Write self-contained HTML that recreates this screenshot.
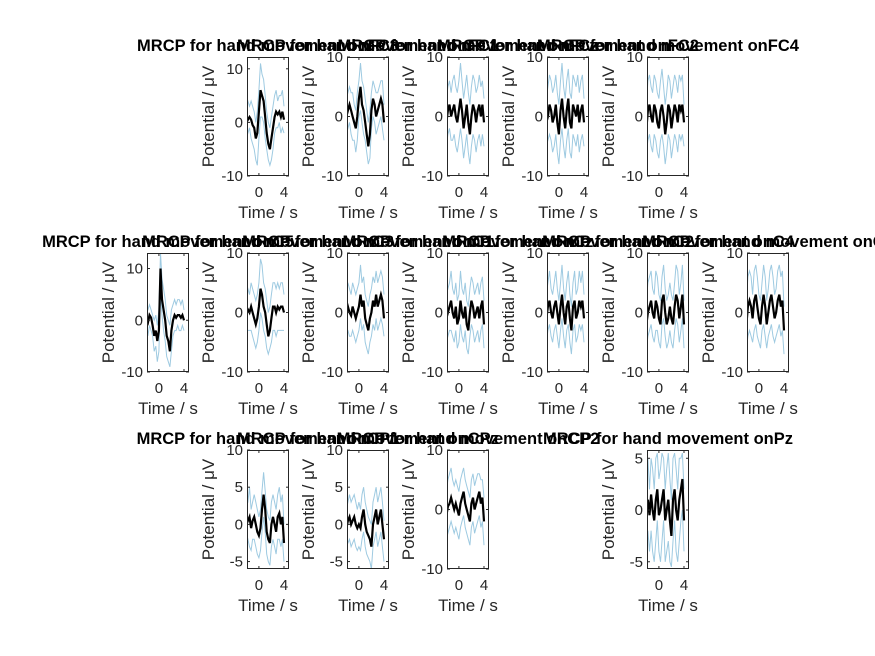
<!DOCTYPE html>
<html><head><meta charset="utf-8"><style>
body{margin:0;background:#fff}
svg{display:block;font-family:"Liberation Sans",Arial,sans-serif}
.tk{font-size:15px;fill:#262626}
.lb{font-size:17px;fill:#262626}
.tt{font-size:16.5px;font-weight:bold;fill:#000}
</style></head><body>
<svg id="fig" width="875" height="656" viewBox="0 0 875 656">
<rect width="875" height="656" fill="#fff"/>
</svg>
<script>
const times=[-2,-1.75,-1.5,-1.25,-1,-0.75,-0.5,-0.25,0,0.25,0.5,0.75,1,1.25,1.5,1.75,2,2.25,2.5,2.75,3,3.25,3.5,3.75,4];
const channels=["FC3","FC1","FCz","FC2","FC4","C5","C3","C1","Cz","C2","C4","C6","CP1","CPz","CP2","Pz"];
const ylims=[[-10,12.2],[-10,10],[-10,10],[-10,10],[-10,10],[-10,13],[-10,10],[-10,10],[-10,10],[-10,10],[-10,10],[-10,10],[-6,10],[-6,10],[-10,10],[-5.7,5.8]];
const yticks=[[-10,0,10],[-10,0,10],[-10,0,10],[-10,0,10],[-10,0,10],[-10,0,10],[-10,0,10],[-10,0,10],[-10,0,10],[-10,0,10],[-10,0,10],[-10,0,10],[-5,0,5,10],[-5,0,5,10],[-10,0,10],[-5,0,5]];
const meanVals=[
[0,0.5,1,0.5,-0.5,-1,-3,-2,2,6,5,4,1,-2,-4,-5,-3,-1,1,2,1.5,2,1,2,0.5],
[0,1,2,1,0,-1,-2,0,3,5,2,1,-1,-3,-5,-3,1,3,2,0,1,2,3,2,-1],
[-1,1,2,0,1,2,0,-1,1,3,1,-2,0,2,-1,-3,0,2,1,-1,1,2,0,2,-1],
[-1,0,2,1,-1,0,2,-1,-3,1,3,0,-2,1,3,-1,-2,2,1,0,2,-1,1,2,-1],
[-2,1,2,0,-1,2,1,-1,-2,1,2,0,-3,-1,2,1,-2,0,2,1,-1,2,1,2,-1],
[0,-0.5,1,0.5,-1,-3,-2,-4,-2,10,4,2,0,-3,-4,-6,-2,0,1,0.5,1,1,0.5,1,0],
[0,0.5,0,1,0,-1,-2,-1,1,4,3,1,0,-2,-4,-3,-1,1,1,0,1,0.5,1,1,0],
[0,1,0,-0.5,1,0,-1,0,1,3,1,2,-1,-2,-3,-1,0,2,1,3,1,2,3,2,-1],
[-1,0,1,2,0,-1,1,-2,-1,2,0,-1,1,-2,-3,0,2,1,-1,0,1,-1,1,2,-2],
[-1,1,2,0,-1,1,2,0,-2,1,3,0,-2,1,2,-1,-3,1,2,-1,0,2,1,2,-1],
[-2,0,1,2,0,-1,2,1,-1,-2,2,3,0,-2,-1,1,-1,-2,1,3,2,-1,1,3,-2],
[-2,1,2,1,-1,2,3,1,-1,-2,1,3,1,-2,0,2,3,1,-1,0,2,3,1,2,-3],
[0,0.5,1,-0.5,0.5,1,0,-1,-1.5,-0.5,2,4,2,-1,-2,-2.5,0,1,0,-1,1,1.5,0,1,-2.5],
[-0.5,0.5,1,0,0.5,1,0,-0.5,0,-0.5,1,2,0,-1,-1.5,-2,-3,0,1,2,0,1,2,0,-2],
[-1,0.5,1,2,1,0,1,0,-1,1,2,3,1,0,-1,-2,1,2,0,1,2,3,1,2,-2],
[0,1,-0.5,1.5,0,-1,1,2,-0.5,0,1,2,-1,0,1,-1,-2.5,1,2,0,-1,1,2,3,-1]];
const upperVals=[
[3,4,3,4,3,2,0,2,6,11,9,8,5,2,0,-1,1,3,5,6,4,5,5,6,3],
[3,4,5,4,4,2,1,4,6,9,6,5,3,1,-1,1,4,6,5,4,4,5,6,6,2],
[3,5,6,4,6,7,5,4,6,9,6,3,5,7,4,2,5,7,6,4,5,7,5,6,3],
[3,5,7,6,4,5,7,4,2,6,9,5,3,6,8,4,3,7,6,5,7,4,6,7,3],
[2,6,7,5,4,7,6,4,3,6,8,5,2,4,7,6,3,5,7,6,4,7,6,7,2],
[3,2,3,2,1,0,1,-1,2,13,8,6,4,1,0,-1,2,3,4,3,4,4,3,4,2],
[3,4,3,5,4,3,2,3,5,9,8,5,4,2,0,1,3,5,5,4,5,4,5,5,3],
[3,5,4,3,5,4,3,4,5,8,5,6,3,2,1,3,4,6,5,7,5,6,7,6,3],
[3,4,5,7,4,3,5,2,3,7,4,3,5,2,1,4,6,5,3,4,5,3,5,6,2],
[3,5,7,4,3,5,7,4,2,5,8,4,2,5,7,3,1,5,7,3,4,7,5,7,3],
[2,5,6,7,4,3,7,6,3,2,6,8,4,2,3,5,3,2,5,8,7,3,5,8,2],
[2,6,7,6,3,7,8,6,3,2,5,8,6,2,4,7,8,6,3,4,7,8,6,7,1],
[2.5,3,5,2,3,4,3,2,1,2,4.5,7,4.5,2,1,0.5,3,4,3,2,4,5,3,4,0],
[2,3,4,3,3.5,4,3,2,3,2,4,5,3,2,1,0.5,0,3,4,5,3,4,5,3,0.5],
[3,5,6,7,5,4,5,4,3,5,6,7,5,4,3,2,5,6,4,5,6,6,5,5,2],
[3,5,2,5,4,2,5,5.5,3,4,5.5,5,2,4,5.5,3,1,5,5.5,4,2,5,5,5.5,2]];
const lowerVals=[
[-3,-2,-1,-3,-4,-5,-7,-8,-3,1,1,0,-3,-5,-7,-8,-7,-5,-2,-1,-1,0,-2,-1,-2],
[-3,-2,-1,-3,-4,-4,-6,-4,0,1,-1,-3,-4,-6,-8,-7,-2,0,-1,-3,-2,-1,0,-2,-4],
[-5,-3,-2,-4,-4,-3,-5,-6,-4,-2,-4,-7,-5,-3,-6,-8,-5,-3,-4,-6,-4,-3,-5,-3,-5],
[-5,-4,-3,-4,-6,-5,-3,-6,-8,-4,-2,-5,-7,-4,-2,-6,-7,-3,-4,-5,-3,-6,-4,-3,-5],
[-6,-4,-3,-5,-6,-3,-4,-6,-7,-4,-3,-5,-8,-6,-3,-4,-7,-5,-3,-4,-6,-3,-4,-3,-5],
[-2,-3,-1,-2,-3,-6,-5,-8,-6,5,1,-2,-4,-7,-8,-9,-6,-3,-2,-2,-1,-2,-2,-1,-2],
[-3,-3,-3,-3,-4,-5,-6,-5,-3,0,-1,-3,-4,-6,-7,-6,-5,-3,-3,-4,-3,-3,-3,-3,-3],
[-3,-3,-4,-4,-3,-4,-5,-4,-3,-1,-3,-2,-5,-6,-7,-5,-4,-2,-3,-1,-3,-2,-1,-2,-4],
[-5,-4,-3,-3,-4,-5,-3,-6,-5,-2,-4,-5,-3,-6,-7,-4,-2,-3,-5,-4,-3,-5,-3,-2,-6],
[-5,-3,-2,-4,-5,-3,-2,-4,-6,-3,-1,-4,-6,-3,-2,-5,-7,-3,-2,-5,-4,-2,-3,-2,-5],
[-6,-4,-3,-2,-4,-5,-3,-3,-5,-6,-2,-1,-4,-6,-5,-3,-5,-6,-3,-1,-2,-5,-3,-1,-6],
[-6,-4,-3,-4,-5,-3,-2,-4,-5,-6,-3,-2,-4,-6,-4,-3,-2,-4,-5,-4,-3,-2,-4,-3,-7],
[-2.5,-2,-3,-3.5,-2,-2,-3,-4,-4.5,-3.5,-1,1,-1,-4,-5,-5.5,-3,-2,-3,-4,-2,-2,-3,-2,-5],
[-3,-2.5,-2,-3,-2.5,-2,-3,-3.5,-3,-3.5,-2,-1,-3,-4,-4.5,-5,-6,-3,-2,-1,-3,-2,-1,-3,-5],
[-5,-4,-3,-2,-3,-4,-3,-4,-5,-3,-2,-1,-3,-4,-5,-6,-3,-2,-4,-3,-2,-1,-3,-2,-6],
[-3,-2,-4,-2,-4,-5,-3,-1,-4,-5,-3,-1,-5,-4,-3,-5,-5.5,-3,-1,-4,-5,-3,-1,0,-4]];
const xticks=[0,4];
const xlim=[-1.9,4.8];
const NS="http://www.w3.org/2000/svg";
const svg=document.getElementById('fig');
const cells=[[0,1],[0,2],[0,3],[0,4],[0,5],[1,0],[1,1],[1,2],[1,3],[1,4],[1,5],[1,6],[2,1],[2,2],[2,3],[2,5]];
const rowTop=[57,253,450],AH=119,AW=42;
function mk(tag,attrs,parent){const e=document.createElementNS(NS,tag);for(const k in attrs)e.setAttribute(k,attrs[k]);(parent||svg).appendChild(e);return e;}
const titleLayer=document.createElementNS(NS,'g');
cells.forEach((c,i)=>{
  const x0=147+c[1]*100,y0=rowTop[c[0]];
  const yl=ylims[i];
  const sx=t=>x0+(t-xlim[0])/(xlim[1]-xlim[0])*AW;
  const sy=v=>y0+AH-(v-yl[0])/(yl[1]-yl[0])*AH;
  const g=mk('g',{});
  
  
  const cp='cp'+i;
  const cl=mk('clipPath',{id:cp},g);mk('rect',{x:x0,y:y0,width:AW,height:AH},cl);
  mk('rect',{x:x0,y:y0,width:AW,height:AH,fill:'#fff'},g);
  const pts=a=>a.map((v,k)=>sx(times[k]).toFixed(1)+','+sy(v).toFixed(1)).join(' ');
  const u=mk('polyline',{points:pts(upperVals[i]),fill:'none',stroke:'#9ecae1','stroke-width':1,'clip-path':'url(#'+cp+')'},g);
  
  
  const l=mk('polyline',{points:pts(lowerVals[i]),fill:'none',stroke:'#9ecae1','stroke-width':1,'clip-path':'url(#'+cp+')'},g);
  
  
  const m=mk('polyline',{points:pts(meanVals[i]),fill:'none',stroke:'#000','stroke-width':2.2,'clip-path':'url(#'+cp+')'},g);
  
  
  mk('rect',{x:x0+0.5,y:y0+0.5,width:AW-1,height:AH-1,fill:'none',stroke:'#262626','stroke-width':1},g);
  yticks[i].forEach(v=>{const y=sy(v);
    mk('line',{x1:x0,x2:x0+3,y1:y,y2:y,stroke:'#262626'},g);
    mk('line',{x1:x0+AW-3,x2:x0+AW,y1:y,y2:y,stroke:'#262626'},g);
    const t=mk('text',{x:x0-4,y:y+5,'text-anchor':'end',class:'tk'},g);t.textContent=v;
    
    
  });
  xticks.forEach(v=>{const x=sx(v);
    mk('line',{x1:x,x2:x,y1:y0+AH,y2:y0+AH-3,stroke:'#262626'},g);
    mk('line',{x1:x,x2:x,y1:y0,y2:y0+3,stroke:'#262626'},g);
    const t=mk('text',{x:x,y:y0+AH+21,'text-anchor':'middle',class:'tk'},g);t.textContent=v;
    
    
  });
  const xl=mk('text',{x:x0+AW/2,y:y0+AH+42,'text-anchor':'middle',class:'lb'},g);xl.textContent='Time / s';
  
  
  const yx=x0-33,yy=y0+AH/2;
  const ylb=mk('text',{x:yx,y:yy,'text-anchor':'middle',class:'lb',transform:'rotate(-90 '+yx+' '+yy+')'},g);ylb.textContent='Potential / μV';
  
  
  const tt=mk('text',{x:x0+AW/2,y:y0-6,'text-anchor':'middle',class:'tt'},titleLayer);tt.textContent='MRCP for hand movement on'+channels[i];
  
  
});
svg.appendChild(titleLayer);
</script>
</body></html>
